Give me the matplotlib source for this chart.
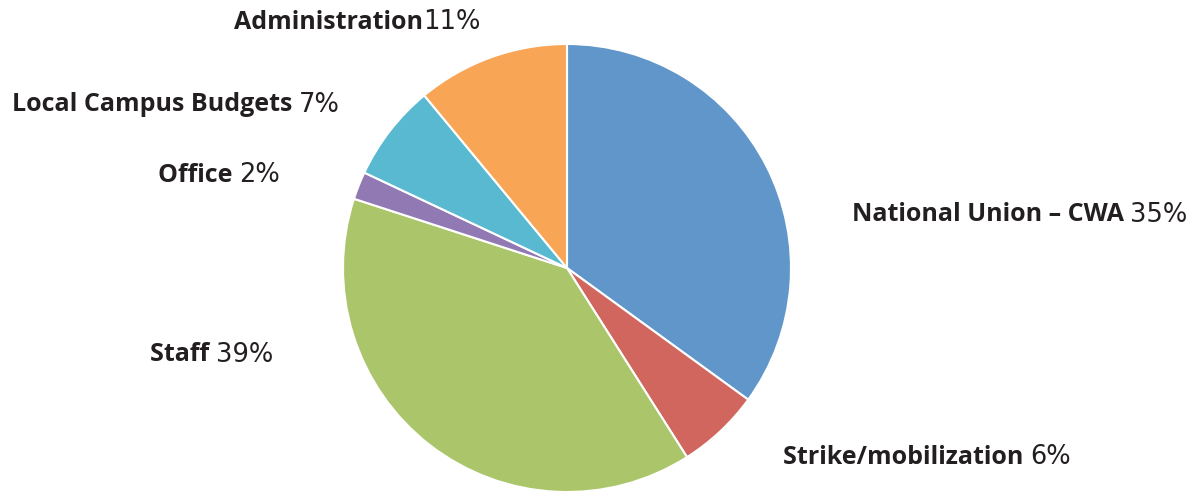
import matplotlib.pyplot as plt

names = ["National Union \u2013 CWA", "Strike/mobilization", "Staff", "Office",
         "Local Campus Budgets", "Administration"]
shares = [35, 6, 39, 2, 7, 11]
pct_labels = ["35%", "6%", "39%", "2%", "7%", "11%"]
colors = ["#6096CA", "#D1665E", "#ABC56B", "#9179B4", "#58B9D1", "#F8A656"]

# label anchor (left edge, vertical centre) in pie-radius units
label_pos = [(1.272, 0.237), (0.964, -0.844), (-1.862, -0.388),
             (-1.826, 0.415), (-2.478, 0.728), (-1.487, 1.098)]
gap = [" ", " ", " ", " ", " ", ""]

plt.rcParams['font.family'] = ['Open Sans', 'DejaVu Sans']

fig = plt.figure(figsize=(11.96, 4.92), dpi=100)
W, H = 1196, 492
cx, cy, r = 567, 268, 224
ax = fig.add_axes([(cx - r) / W, (H - cy - r) / H, 2 * r / W, 2 * r / H])

ax.pie(shares, colors=colors, startangle=90, counterclock=False,
       wedgeprops=dict(edgecolor="white", linewidth=1.5))
ax.set_xlim(-1, 1)
ax.set_ylim(-1, 1)
ax.set_aspect("equal")
ax.axis("off")

tc = "#231F20"
for name, pct, (x, y), g in zip(names, pct_labels, label_pos, gap):
    t = ax.text(x, y, name + g, fontsize=18, fontweight="bold", color=tc,
                ha="left", va="center")
    ax.annotate(pct, xy=(1, 0.5), xycoords=t, fontsize=18.5, color=tc,
                family=["DejaVu Sans"], ha="left", va="center")

fig.savefig("out.png", dpi=100)
